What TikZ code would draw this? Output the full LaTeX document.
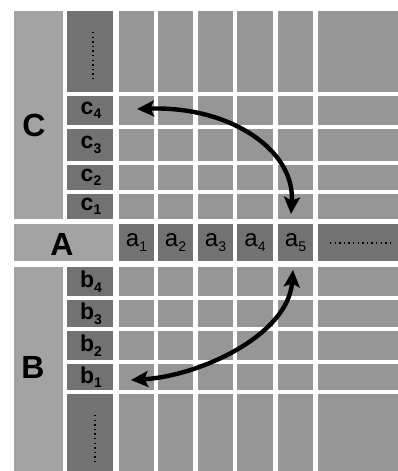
\documentclass[tikz,border=0pt]{standalone}
\usepackage{fontspec}
\setmainfont{Liberation Sans}
\usetikzlibrary{arrows.meta}
\definecolor{lightg}{HTML}{A3A3A3}
\definecolor{gridg}{HTML}{969696}
\definecolor{darkg}{HTML}{727272}
\newcommand\lbl[2]{#1\raisebox{-4.5pt}{\fontsize{14}{14}\selectfont #2}}
\tikzset{
  cellbox/.style={anchor=north west, inner sep=0pt, outer sep=0pt, draw=none},
  lightcell/.style={cellbox, fill=lightg},
  gridcell/.style={cellbox, fill=gridg},
  darkcell/.style={cellbox, fill=darkg},
  biglbl/.style={font=\fontsize{32}{32}\selectfont\bfseries},
  sublbl/.style={font=\fontsize{23}{23}\selectfont\bfseries},
  albl/.style={font=\fontsize{24}{24}\selectfont},
  dotline/.style={line width=2pt, dash pattern=on 1.4pt off 3.2pt, black},
  dblarrow/.style={line width=4.4pt, {Stealth[length=17pt,width=16pt,inset=3.5pt]}-{Stealth[length=17pt,width=16pt,inset=3.5pt]}}
}
\begin{document}
\begin{tikzpicture}[x=1pt,y=-1pt]
\useasboundingbox (0,0) rectangle (398,471);
\fill[white] (0,0) rectangle (398,471);
% big bands
\node[lightcell, minimum width=49pt, minimum height=208pt] (Cband) at (14,11) {};
\node[lightcell, minimum width=49pt, minimum height=204pt] (Bband) at (14,267) {};
\node[lightcell, minimum width=99pt, minimum height=37pt] (Aband) at (14,224) {};
% dark column, upper
\node[darkcell, minimum width=46pt, minimum height=81pt] (cdots) at (67,11) {};
\node[darkcell, minimum width=46pt, minimum height=29pt] (c4) at (67,96) {};
\node[darkcell, minimum width=46pt, minimum height=32pt] (c3) at (67,129) {};
\node[darkcell, minimum width=46pt, minimum height=25pt] (c2) at (67,165) {};
\node[darkcell, minimum width=46pt, minimum height=25pt] (c1) at (67,194) {};
% dark column, lower
\node[darkcell, minimum width=46pt, minimum height=29pt] (b4) at (67,267) {};
\node[darkcell, minimum width=46pt, minimum height=27pt] (b3) at (67,300) {};
\node[darkcell, minimum width=46pt, minimum height=29pt] (b2) at (67,331) {};
\node[darkcell, minimum width=46pt, minimum height=26pt] (b1) at (67,364) {};
\node[darkcell, minimum width=46pt, minimum height=77pt] (bdots) at (67,394) {};
% A row cells and grid
\foreach \i/\l/\w in {1/119/35,2/158/35,3/198/35,4/237/36,5/278/35,6/318/80}{
  \node[darkcell, minimum width=\w pt, minimum height=37pt] (a\i) at (\l,224) {};
  \foreach \r/\t/\h in {0/11/81,4/96/29,3/129/32,2/165/25,1/194/25}{
    \node[gridcell, minimum width=\w pt, minimum height=\h pt] (u\i r\r) at (\l,\t) {};
  }
  \foreach \r/\t/\h in {4/267/29,3/300/27,2/331/29,1/364/26,0/394/77}{
    \node[gridcell, minimum width=\w pt, minimum height=\h pt] (d\i r\r) at (\l,\t) {};
  }
}
% labels
\node[biglbl] at (34,125) {C};
\node[biglbl] at (33,367) {B};
\node[biglbl] at (62,244) {A};
\node[sublbl] at ([xshift=1pt]c4.center) {\lbl{c}{4}};
\node[sublbl] at ([xshift=1pt]c3.center) {\lbl{c}{3}};
\node[sublbl] at ([xshift=1pt]c2.center) {\lbl{c}{2}};
\node[sublbl] at ([xshift=1pt]c1.center) {\lbl{c}{1}};
\node[sublbl] at ([xshift=1pt]b4.center) {\lbl{b}{4}};
\node[sublbl] at ([xshift=1pt]b3.center) {\lbl{b}{3}};
\node[sublbl] at ([xshift=1pt]b2.center) {\lbl{b}{2}};
\node[sublbl] at ([xshift=1pt]b1.center) {\lbl{b}{1}};
\foreach \i in {1,...,5}{
  \node[albl] at (a\i.center) {\lbl{a}{\i}};
}
% dotted lines
\draw[dotline] ([xshift=3pt,yshift=-21pt]cdots.north) -- ([xshift=3pt,yshift=11pt]cdots.south);
\draw[dotline] ([xshift=5pt,yshift=-21pt]bdots.north) -- ([xshift=5pt,yshift=6pt]bdots.south);
\draw[dotline] ([xshift=12pt]a6.west) -- ([xshift=-8pt]a6.east);
% arrows
\coordinate (p1) at (137,109);
\coordinate (p2) at (291,214);
\coordinate (q1) at (131,380);
\coordinate (q2) at (293,270);
\draw[dblarrow] (p1) .. controls (230,106) and (295,150) .. (p2);
\draw[dblarrow] (q1) .. controls (200,376) and (288,335) .. (q2);
\end{tikzpicture}
\end{document}
